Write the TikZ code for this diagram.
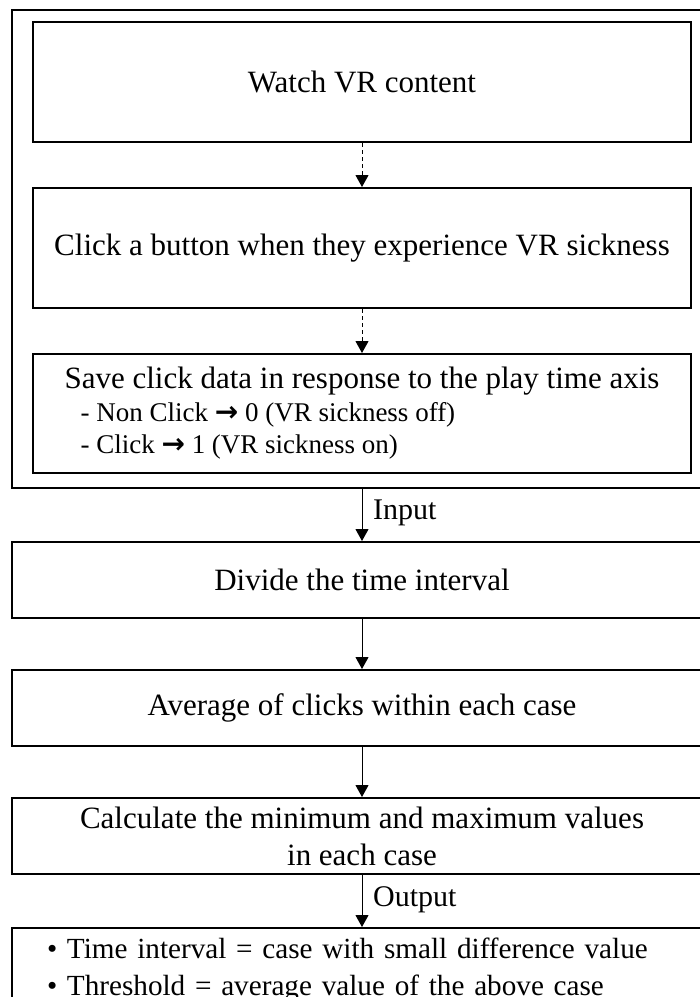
\documentclass[tikz,border=0pt]{standalone}
\usepackage{fontspec}
\setmainfont{Liberation Serif}
\newfontfamily\arrowfont{DejaVu Sans}
\usetikzlibrary{arrows.meta}
\newcommand{\thickarrow}{{\arrowfont\bfseries\fontsize{28}{32}\selectfont →}}
\begin{document}
\begin{tikzpicture}[x=1pt,y=-1pt,
  box/.style={draw, line width=2pt, minimum width=658pt, inner sep=0pt, align=center, font=\fontsize{31}{37}\selectfont},
  widebox/.style={box, minimum width=700pt},
  conn/.style={line width=1pt, -{Triangle[length=12pt,width=13pt]}},
  dconn/.style={conn, dash pattern=on 4pt off 3pt},
  lbl/.style={anchor=west, inner sep=0pt, font=\fontsize{30}{36}\selectfont}]
\useasboundingbox (0,0) rectangle (700,997);
\node[widebox, minimum height=478pt] (outer) at (362,249) {};
\node[box, minimum height=120pt] (b1) at (362,82) {Watch VR content};
\node[box, minimum height=120pt] (b2) at (362,248) {Click a button when they experience VR sickness};
\node[box, minimum height=119pt, align=left, font=\fontsize{31}{34}\selectfont] (b3) at (362,413.5)
  {Save click data in response to the play time axis\\[-1pt]
   {\fontsize{27}{32}\selectfont\hspace{16pt}- Non Click \thickarrow{} 0 (VR sickness off)}\\[-2pt]
   {\fontsize{27}{32}\selectfont\hspace{16pt}- Click \thickarrow{} 1 (VR sickness on)}};
\node[widebox, minimum height=76pt] (b4) at (362,580) {Divide the time interval};
\node[widebox, minimum height=76pt] (b5) at (362,708) {Average of clicks within each case};
\node[widebox, minimum height=76pt] (b6) at (362,836) {Calculate the minimum and maximum values\\in each case};
\node[draw, line width=2pt, anchor=north, inner xsep=35pt, inner ysep=10pt, text width=630pt, align=left,
  font=\fontsize{29.2}{37}\selectfont] (b7) at (362,927)
  {• Time interval = case with small difference value\\
   • Threshold = average value of the above case};
\draw[dconn] (b1.south) -- (b2.north);
\draw[dconn] (b2.south) -- (b3.north);
\draw[conn] (outer.south) -- (b4.north);
\draw[conn] (b4.south) -- (b5.north);
\draw[conn] (b5.south) -- (b6.north);
\draw[conn] (b6.south) -- (b7.north);
\node[lbl] (lin) at (373,513) {Input};
\node[lbl] (lout) at (373,900) {Output};
\end{tikzpicture}
\end{document}
